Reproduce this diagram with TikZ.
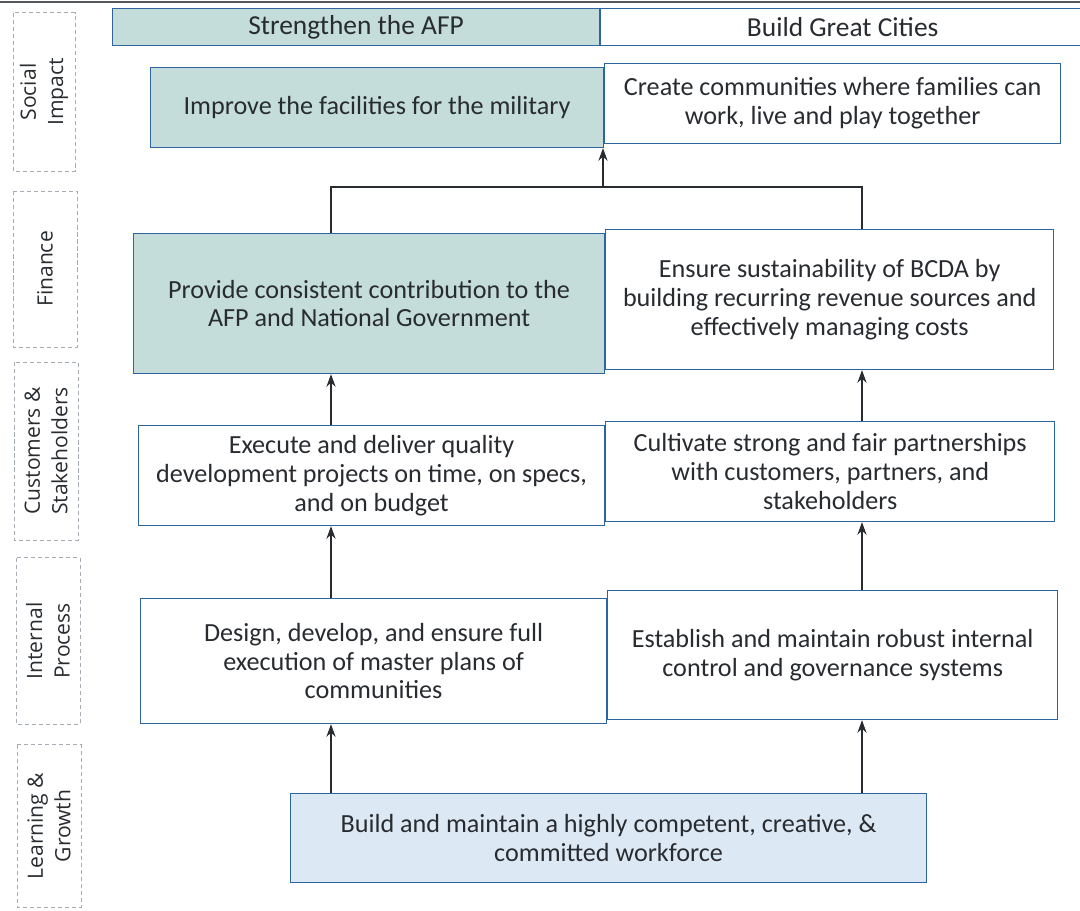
\documentclass[tikz,border=0pt]{standalone}
\usepackage{fontspec}
\setmainfont{Carlito}
\newfontfamily\perspfont{Open Sans}
\usepackage{tikz}
\usetikzlibrary{arrows,arrows.meta,shapes,positioning}
\definecolor{bscblue}{RGB}{46,100,160}
\definecolor{bscteal}{RGB}{196,220,218}
\definecolor{bsclight}{RGB}{220,232,244}
\definecolor{bscgray}{RGB}{165,172,180}
\definecolor{bscink}{RGB}{40,44,48}
\tikzstyle{goal} = [rectangle, anchor=north west, inner sep=2pt, align=center, draw=bscblue, fill=white, thick, text=bscink, font=\fontsize{18.6}{20.5}\selectfont]
\tikzstyle{afp} = [goal, fill=bscteal]
\tikzstyle{theme} = [goal, font=\fontsize{19.5}{22}\selectfont]
\tikzstyle{persp} = [rectangle, rotate=90, inner sep=0pt, align=center, draw=bscgray, densely dashed, thin, text=bscink, font=\perspfont\fontsize{15}{19.5}\selectfont]
\tikzstyle{arrow} = [line width=0.9pt,->,>={Stealth[length=9pt,width=6.5pt]},color=bscink]

\begin{document}
\begin{tikzpicture}[x=0.025cm, y=-0.025cm]
\useasboundingbox (0,0) rectangle (1080,910);
\draw[bscgray!50!black, line width=1.2pt] (0,2) -- (1080,2);

% Perspectives
\node[persp, minimum width=159*0.025cm, minimum height=62*0.025cm] (pso) at (44,92) {Social\\Impact};
\node[persp, minimum width=156*0.025cm, minimum height=64*0.025cm] (pfi) at (45,269) {Finance};
\node[persp, minimum width=178*0.025cm, minimum height=64*0.025cm] (pcu) at (46,451) {Customers \&\\Stakeholders};
\node[persp, minimum width=167*0.025cm, minimum height=64*0.025cm] (pin) at (48,641) {Internal\\Process};
\node[persp, minimum width=163*0.025cm, minimum height=64*0.025cm] (plr) at (49,826) {Learning \&\\Growth};

% Themes
\node[theme, fill=bscteal, minimum width=487*0.025cm, minimum height=37*0.025cm] (hafp) at (112,8) {Strengthen the AFP};
\node[theme, anchor=west, minimum width=484*0.025cm, minimum height=37*0.025cm, right=0pt of hafp] (hcity) {Build Great Cities};

% Objectives
\node[afp, minimum width=453*0.025cm, minimum height=80*0.025cm] (soa) at (150,67) {Improve the facilities for the military};
\node[goal, anchor=west, minimum width=456*0.025cm, minimum height=80*0.025cm, right=0pt of soa, yshift=0.1cm] (soc) {Create communities where families can\\work, live and play together};

\node[afp, minimum width=471*0.025cm, minimum height=140*0.025cm] (fia) at (133,233) {Provide consistent contribution to the\\AFP and National Government};
\node[goal, anchor=west, minimum width=448*0.025cm, minimum height=140*0.025cm, right=0pt of fia, yshift=0.1cm] (fic) {Ensure sustainability of BCDA by\\building recurring revenue sources and\\effectively managing costs};

\node[goal, minimum width=466*0.025cm, minimum height=100*0.025cm] (cua) at (138,425) {Execute and deliver quality\\development projects on time, on specs,\\and on budget};
\node[goal, anchor=west, minimum width=449*0.025cm, minimum height=100*0.025cm, right=0pt of cua, yshift=0.1cm] (cuc) {Cultivate strong and fair partnerships\\with customers, partners, and\\stakeholders};

\node[goal, minimum width=466*0.025cm, minimum height=125*0.025cm] (ina) at (140,598) {Design, develop, and ensure full\\execution of master plans of\\communities};
\node[goal, anchor=west, minimum width=450*0.025cm, minimum height=129*0.025cm, right=0pt of ina, yshift=0.15cm] (inc) {Establish and maintain robust internal\\control and governance systems};

\node[goal, fill=bsclight, minimum width=636*0.025cm, minimum height=89*0.025cm] (lrn) at (290,793) {Build and maintain a highly competent, creative, \&\\committed workforce};

% Links
\coordinate (colL) at (331,0);
\coordinate (colR) at (862,0);
\coordinate (join) at (603,187);
\draw[arrow] (lrn.north -| colL) -- (ina.south -| colL);
\draw[arrow] (lrn.north -| colR) -- (inc.south -| colR);
\draw[arrow] (ina.north -| colL) -- (cua.south -| colL);
\draw[arrow] (inc.north -| colR) -- (cuc.south -| colR);
\draw[arrow] (cua.north -| colL) -- (fia.south -| colL);
\draw[arrow] (cuc.north -| colR) -- (fic.south -| colR);
\draw[line width=0.9pt, color=bscink] (fia.north -| colL) |- (join) -| (fic.north -| colR);
\draw[arrow] (join) -- (join |- soa.south);
\end{tikzpicture}
\end{document}
